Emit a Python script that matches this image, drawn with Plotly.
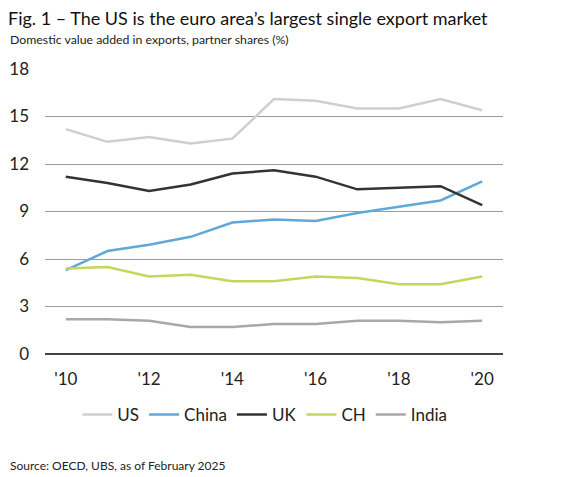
import plotly.graph_objects as go

years = list(range(2010, 2021))
us = [14.2, 13.4, 13.7, 13.3, 13.6, 16.1, 16.0, 15.5, 15.5, 16.1, 15.4]
china = [5.3, 6.5, 6.9, 7.4, 8.3, 8.5, 8.4, 8.9, 9.3, 9.7, 10.9]
uk = [11.2, 10.8, 10.3, 10.7, 11.4, 11.6, 11.2, 10.4, 10.5, 10.6, 9.4]
ch = [5.4, 5.5, 4.9, 5.0, 4.6, 4.6, 4.9, 4.8, 4.4, 4.4, 4.9]
india = [2.2, 2.2, 2.1, 1.7, 1.7, 1.9, 1.9, 2.1, 2.1, 2.0, 2.1]

tick_years = [2010, 2012, 2014, 2016, 2018, 2020]
tick_labels = ["'10", "'12", "'14", "'16", "'18", "'20"]
y_ticks = [0, 3, 6, 9, 12, 15, 18]

series = [
    ("US", us, "#cfcfcf"),
    ("China", china, "#5fa8d8"),
    ("UK", uk, "#333333"),
    ("CH", ch, "#c4d65c"),
    ("India", india, "#a8a8a8"),
]

font = "Lato"

fig = go.Figure()
for name, vals, col in series:
    fig.add_trace(go.Scatter(x=years, y=vals, name=name, mode="lines",
                             line=dict(color=col, width=2.5)))

# page has an 8px body margin, so the figure is a bit smaller and shifted
fig.update_layout(
    width=572, height=469,
    paper_bgcolor="white", plot_bgcolor="white",
    margin=dict(l=37, r=77, t=61, b=123, autoexpand=False),
    font=dict(family=font, color="#222222"),
    title=dict(text="Fig. 1 – The US is the euro area’s largest single export market",
               xref="container", yref="container", x=0, xanchor="left",
               y=0.99, yanchor="top", pad=dict(t=0, l=0),
               font=dict(size=18, color="#111111")),
    showlegend=True,
    legend=dict(orientation="h", x=0.48, xanchor="center", y=-0.151, yanchor="top",
                font=dict(size=17, color="#222222"), itemwidth=30,
                tracegroupgap=0),
)

fig.update_xaxes(range=[2009.5, 2020.5], tickvals=tick_years, ticktext=tick_labels,
                 showgrid=False, zeroline=False, showline=False, ticks="",
                 tickfont=dict(size=17, color="#222222"), ticklabelstandoff=13,
                 automargin=False)
fig.update_yaxes(range=[0, 18], tickvals=y_ticks, showgrid=True, gridcolor="#9c9c9c",
                 gridwidth=1, zeroline=True, zerolinecolor="#444444", zerolinewidth=1.5,
                 showline=False, ticks="", tickfont=dict(size=17, color="#222222"),
                 ticklabelstandoff=15, automargin=False)

fig.add_annotation(text="Domestic value added in exports, partner shares (%)",
                   xref="paper", yref="paper", x=-37 / 458, xanchor="left",
                   y=1.0 + 30 / 285, yanchor="middle", showarrow=False,
                   font=dict(size=12.3, color="#222222"))
fig.add_annotation(text="Source: OECD, UBS, as of February 2025",
                   xref="paper", yref="paper", x=-37 / 458, xanchor="left",
                   y=-112 / 285, yanchor="middle", showarrow=False,
                   font=dict(size=12, color="#222222"))

fig.write_html("out.html")
